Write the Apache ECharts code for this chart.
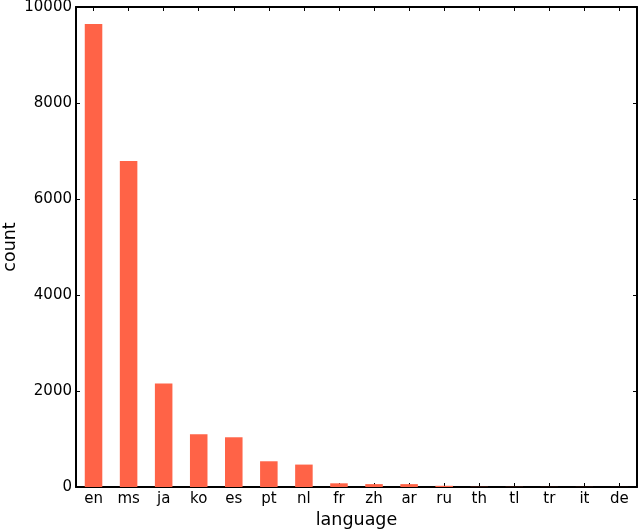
<!DOCTYPE html>
<html>
<head>
<meta charset="utf-8">
<script src="https://cdn.jsdelivr.net/npm/echarts@6/dist/echarts.min.js"></script>
<style>
  html, body { margin: 0; padding: 0; background: #fff; }
  #chart { width: 640px; height: 530px; }
</style>
</head>
<body>
<div id="chart"></div>
<script>
const languages = ['en', 'ms', 'ja', 'ko', 'es', 'pt', 'nl', 'fr', 'zh', 'ar', 'ru', 'th', 'tl', 'tr', 'it', 'de'];
const counts = [9646, 6790, 2155, 1098, 1036, 536, 467, 77, 60, 60, 25, 4, 3, 2, 2, 1];
const yTicks = [0, 2000, 4000, 6000, 8000, 10000];

const font = 'DejaVu Sans';
const chart = echarts.init(document.getElementById('chart'));

const tickStyle = { show: true, inside: true, length: 4, lineStyle: { color: '#000', width: 1 } };
const frameLine = { show: true, onZero: false, lineStyle: { color: '#000', width: 2 } };

chart.setOption({
  animation: false,
  grid: { left: 76, right: 3, top: 7, bottom: 43, containLabel: false, outerBoundsMode: 'none' },
  xAxis: [{
    type: 'category',
    data: languages,
    name: 'language',
    nameLocation: 'middle',
    nameGap: 24,
    nameMoveOverlap: false,
    nameTextStyle: { fontFamily: font, fontSize: 17.5, color: '#000' },
    axisLine: frameLine,
    axisTick: Object.assign({ alignWithLabel: true }, tickStyle),
    axisLabel: { fontFamily: font, fontSize: 15, color: '#000', margin: 5, interval: 0 },
    splitLine: { show: false }
  }, {
    type: 'category',
    data: languages,
    position: 'top',
    axisLine: frameLine,
    axisTick: Object.assign({ alignWithLabel: true }, tickStyle),
    axisLabel: { show: false }
  }],
  yAxis: [{
    type: 'value',
    min: 0,
    max: yTicks[yTicks.length - 1],
    interval: yTicks[1] - yTicks[0],
    name: 'count',
    nameLocation: 'middle',
    nameGap: 57,
    nameMoveOverlap: false,
    nameTextStyle: { fontFamily: font, fontSize: 17.5, color: '#000' },
    axisLine: frameLine,
    axisTick: tickStyle,
    axisLabel: { fontFamily: font, fontSize: 15, color: '#000', margin: 4, formatter: v => String(v) },
    splitLine: { show: false }
  }, {
    type: 'value',
    min: 0,
    max: yTicks[yTicks.length - 1],
    interval: yTicks[1] - yTicks[0],
    position: 'right',
    axisLine: frameLine,
    axisTick: tickStyle,
    axisLabel: { show: false },
    splitLine: { show: false }
  }],
  series: [{
    type: 'bar',
    data: counts,
    barWidth: '50%',
    itemStyle: { color: '#FF6347' }
  }]
});
</script>
</body>
</html>
